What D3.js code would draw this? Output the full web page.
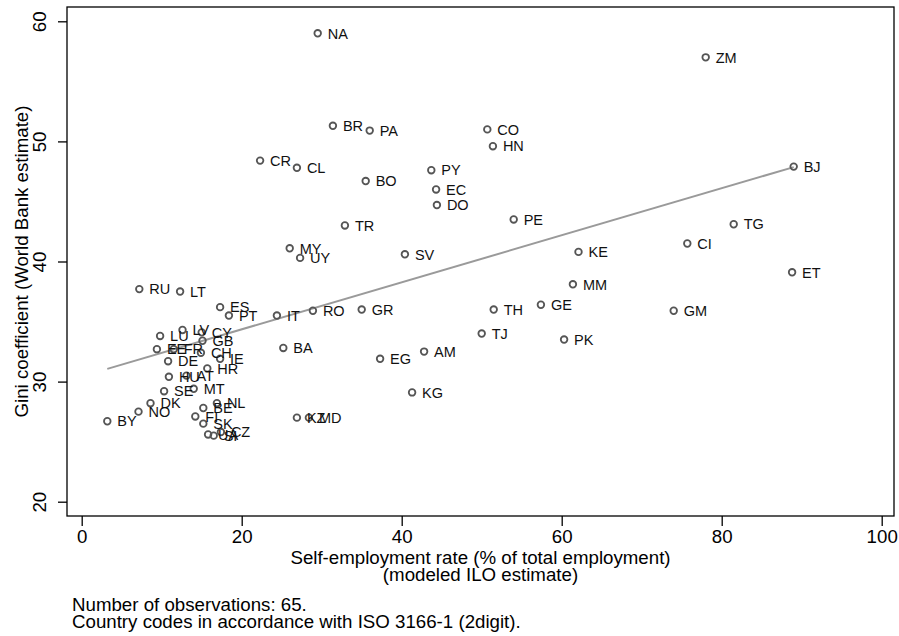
<!DOCTYPE html>
<html>
<head>
<meta charset="utf-8">
<script src="https://cdn.jsdelivr.net/npm/d3@7"></script>
<style>
  body { margin: 0; background: #fff; }
  text { font-family: "Liberation Sans", Arial, sans-serif; }
</style>
</head>
<body>
<div id="chart"></div>
<script>
// country codes (ISO 3166-1 2digit)
const countries = ["NA","ZM","BR","PA","CO","HN","CR","CL","BO","PY","EC","DO","BJ","PE","TR","TG",
  "CI","KE","MY","UY","SV","ET","MM","RU","LT","ES","PT","IT","RO","GR","TH","GE","GM","TJ","PK",
  "BA","EG","AM","KG","KZ","MD","LV","CY","LU","GB","EE","FR","CH","DE","IE","HR","HU","AT","SE",
  "MT","DK","NO","BY","NL","BE","FI","SK","UA","SI","CZ"];
// self-employment rate, % of total employment
const selfEmp = [29.5,78.0,31.4,36.0,50.7,51.4,22.3,26.9,35.5,43.7,44.3,44.4,89.0,54.0,32.9,81.5,
  75.7,62.1,26.0,27.3,40.4,88.8,61.4,7.2,12.3,17.3,18.4,24.4,28.9,35.0,51.5,57.4,74.0,50.0,60.3,
  25.2,37.3,42.8,41.3,26.9,28.4,12.6,15.0,9.8,15.1,9.4,11.5,14.9,10.8,17.3,15.7,10.9,13.1,10.3,
  14.0,8.6,7.1,3.2,16.9,15.2,14.2,15.2,15.8,16.5,17.4];
// Gini coefficient
const gini = [59.0,57.0,51.3,50.9,51.0,49.6,48.4,47.8,46.7,47.6,46.0,44.7,47.9,43.5,43.0,43.1,
  41.5,40.8,41.1,40.3,40.6,39.1,38.1,37.7,37.5,36.2,35.5,35.5,35.9,36.0,36.0,36.4,35.9,34.0,33.5,
  32.8,31.9,32.5,29.1,27.0,27.0,34.3,34.1,33.8,33.4,32.7,32.7,32.4,31.7,31.9,31.1,30.4,30.5,29.2,
  29.4,28.2,27.5,26.7,28.2,27.8,27.1,26.5,25.6,25.5,25.8];
const xTicks = [0, 20, 40, 60, 80, 100];
const yTicks = [20, 30, 40, 50, 60];

const width = 899, height = 636;
const frame = { left: 67, top: 7, right: 894, bottom: 516 };

const svg = d3.select("#chart").append("svg")
    .attr("width", width)
    .attr("height", height);

const x = d3.scaleLinear().domain([0, 100]).range([81.7, 881.7]);
const y = d3.scaleLinear().domain([20, 60]).range([501.7, 21.3]);

const data = countries.map((c, i) => ({ code: c, x: selfEmp[i], y: gini[i] }));

// plot frame
svg.append("rect")
    .attr("x", frame.left)
    .attr("y", frame.top)
    .attr("width", frame.right - frame.left)
    .attr("height", frame.bottom - frame.top)
    .attr("fill", "none")
    .attr("stroke", "#000")
    .attr("stroke-width", 1.3);

// x axis
const xAxis = svg.append("g")
    .attr("transform", `translate(0,${frame.bottom})`)
    .call(d3.axisBottom(x).tickValues(xTicks).tickSize(10).tickPadding(4));
xAxis.select(".domain").remove();
xAxis.selectAll("line").attr("stroke-width", 1.3);
xAxis.selectAll("text").style("font-size", "18.7px").attr("fill", "#000");

// y axis, labels turned like the original
const yAxis = svg.append("g")
    .attr("transform", `translate(${frame.left},0)`)
    .call(d3.axisLeft(y).tickValues(yTicks).tickSize(9));
yAxis.select(".domain").remove();
yAxis.selectAll("line").attr("stroke-width", 1.3);
yAxis.selectAll("text")
    .attr("x", null).attr("dy", null)
    .attr("transform", "translate(-21,0) rotate(-90)")
    .attr("text-anchor", "middle")
    .style("font-size", "18.7px")
    .attr("fill", "#000");

// linear fit
const xm = d3.mean(selfEmp), ym = d3.mean(gini);
const slope = d3.sum(data, d => (d.x - xm) * (d.y - ym)) / d3.sum(data, d => (d.x - xm) ** 2);
const intercept = ym - slope * xm;
const [x0, x1] = d3.extent(selfEmp);
svg.append("line")
    .attr("x1", x(x0)).attr("y1", y(intercept + slope * x0))
    .attr("x2", x(x1)).attr("y2", y(intercept + slope * x1))
    .attr("stroke", "#9a9a9a")
    .attr("stroke-width", 2);

// markers
svg.selectAll("circle.pt")
    .data(data)
    .enter()
    .append("circle")
    .attr("class", "pt")
    .attr("cx", d => x(d.x))
    .attr("cy", d => y(d.y))
    .attr("r", 3.3)
    .attr("fill", "none")
    .attr("stroke", "#555")
    .attr("stroke-width", 1.8);

svg.selectAll("text.lbl")
    .data(data)
    .enter()
    .append("text")
    .attr("class", "lbl")
    .attr("x", d => x(d.x) + 10)
    .attr("y", d => y(d.y))
    .attr("dy", "0.36em")
    .style("font-size", "14.5px")
    .attr("fill", "#111")
    .text(d => d.code);

// axis titles
svg.append("text")
    .attr("transform", `translate(28,${(frame.top + frame.bottom) / 2}) rotate(-90)`)
    .attr("text-anchor", "middle")
    .style("font-size", "18.7px")
    .text("Gini coefficient (World Bank estimate)");

svg.append("text")
    .attr("x", (frame.left + frame.right) / 2)
    .attr("y", 564)
    .attr("text-anchor", "middle")
    .style("font-size", "18.7px")
    .text("Self-employment rate (% of total employment)");
svg.append("text")
    .attr("x", (frame.left + frame.right) / 2)
    .attr("y", 581)
    .attr("text-anchor", "middle")
    .style("font-size", "18.7px")
    .text("(modeled ILO estimate)");

// notes
svg.append("text")
    .attr("x", 72).attr("y", 611)
    .style("font-size", "18.7px")
    .text("Number of observations: 65.");
svg.append("text")
    .attr("x", 72).attr("y", 628)
    .style("font-size", "18.7px")
    .text("Country codes in accordance with ISO 3166-1 (2digit).");
</script>
</body>
</html>
